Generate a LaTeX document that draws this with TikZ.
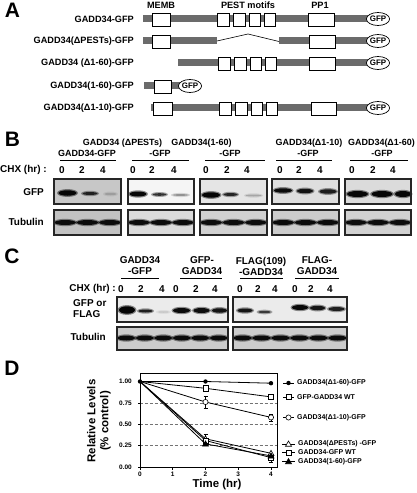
\documentclass[tikz,border=0pt]{standalone}
\usepackage{fontspec}
\setmainfont{Liberation Sans}
\usetikzlibrary{shapes.geometric}
\begin{document}
\begin{tikzpicture}[x=1bp,y=-1bp,
  lbl/.style={font=\bfseries\fontsize{9.2}{10}\selectfont, inner sep=0pt},
  blbl/.style={font=\bfseries\fontsize{10}{11}\selectfont, inner sep=0pt, align=center},
  hlbl/.style={font=\bfseries\fontsize{9}{10}\selectfont, inner sep=0pt, align=center},
  letter/.style={font=\bfseries\fontsize{21}{22}\selectfont, inner sep=0pt},
  bar/.style={fill=black!58},
  dom/.style={fill=white, draw=black, line width=0.9bp},
  gfp/.style={ellipse, draw=black, fill=white, line width=0.7bp, minimum width=22bp, minimum height=13bp, inner sep=0pt, font=\bfseries\fontsize{8}{9}\selectfont},
  blot/.style={draw=black!85, line width=1.4bp},
  rule/.style={line width=1bp},
  tick/.style={font=\bfseries\fontsize{6.5}{7}\selectfont, inner sep=0pt},
  leg/.style={font=\bfseries\fontsize{7}{8}\selectfont, inner sep=0pt, anchor=west},
  grid/.style={densely dashed, black!55, line width=0.5bp},
  dl/.style={line width=0.8bp}
]
\useasboundingbox (0,0) rectangle (416,493);
\fill[white] (0,0) rectangle (416,493);

% band macro: cx cy width height opacity
\newcommand\band[5]{%
  \fill[black, opacity={#5*0.45}] (#1,#2) ellipse [x radius={(#3)/2+1.5}, y radius={(#4)/2+1.2}];
  \fill[black, opacity=#5] (#1,#2) ellipse [x radius={(#3)/2}, y radius={(#4)/2}];}
\newcommand\mkfc[2]{\fill[black] (#1,#2) circle [radius=2.2];}
\newcommand\mkoc[2]{\filldraw[fill=white, draw=black, line width=0.6bp] (#1,#2) circle [radius=2.6];}
\newcommand\mksq[2]{\filldraw[fill=white, draw=black, line width=0.6bp] ({#1-2.6},{#2-2.6}) rectangle ({#1+2.6},{#2+2.6});}
\newcommand\mktri[2]{\filldraw[fill=white, draw=black, line width=0.6bp] (#1,{#2-3}) -- ({#1+3},{#2+2.2}) -- ({#1-3},{#2+2.2}) -- cycle;}
\newcommand\mkftri[2]{\filldraw[fill=black, draw=black, line width=0.6bp] (#1,{#2-3}) -- ({#1+3},{#2+2.2}) -- ({#1-3},{#2+2.2}) -- cycle;}

% ================= Panel A =================
\node[letter] (LA) at (12.5,10.5) {A};
\node[lbl] (hMEMB) at (161,5.5) {MEMB};
\node[lbl] (hPEST) at (248,5) {PEST motifs};
\node[lbl] (hPP1) at (320,5) {PP1};

% row 1
\node[lbl, anchor=east] (r1) at (134,19) {GADD34-GFP};
\fill[bar] (143,15.5) rectangle (368,22.5);
\draw[dom] (152,13) rectangle (170,26);
\draw[dom] (217,13) rectangle (229,26);
\draw[dom] (233,13) rectangle (245,26);
\draw[dom] (249,13) rectangle (260,26);
\draw[dom] (264,13) rectangle (275,26);
\draw[dom] (308,13) rectangle (334,26);
\node[gfp] (g1) at (378,19) {GFP};

% row 2
\node[lbl, anchor=east] (r2) at (134,41) {GADD34(ΔPESTs)-GFP};
\fill[bar] (143,37.5) rectangle (217,44.5);
\fill[bar] (279,37.5) rectangle (368,44.5);
\draw[line width=0.6bp] (217,41) -- (248,34) -- (279,41.5);
\draw[dom] (152,35) rectangle (170,48);
\draw[dom] (309,35) rectangle (335,48);
\node[gfp] (g2) at (378,41) {GFP};

% row 3
\node[lbl, anchor=east] (r3) at (134,63) {GADD34 (Δ1-60)-GFP};
\fill[bar] (178,59.5) rectangle (368,66.5);
\draw[dom] (218,57) rectangle (230,70);
\draw[dom] (234,57) rectangle (246,70);
\draw[dom] (250,57) rectangle (261,70);
\draw[dom] (265,57) rectangle (276,70);
\draw[dom] (309,57) rectangle (335,70);
\node[gfp] (g3) at (378,63) {GFP};

% row 4
\node[lbl, anchor=east] (r4) at (134,86) {GADD34(1-60)-GFP};
\fill[bar] (144,82.5) rectangle (180,89.5);
\draw[dom] (154,80) rectangle (171,93);
\node[gfp] (g4) at (190,86) {GFP};

% row 5
\node[lbl, anchor=east] (r5) at (134,108) {GADD34(Δ1-10)-GFP};
\fill[bar] (151,104.5) rectangle (368,111.5);
\draw[dom] (153,102) rectangle (172,115);
\draw[dom] (219,102) rectangle (231,115);
\draw[dom] (235,102) rectangle (247,115);
\draw[dom] (251,102) rectangle (262,115);
\draw[dom] (266,102) rectangle (277,115);
\draw[dom] (311,102) rectangle (336,115);
\node[gfp] (g5) at (378,108) {GFP};

% ================= Panel B =================
\node[letter] (LB) at (12.5,139) {B};
\node[hlbl] (bh1) at (87,153) {GADD34-GFP};
\node[hlbl] (bh2a) at (122.5,143) {GADD34 (ΔPESTs)};
\node[hlbl] (bh2b) at (160,153) {-GFP};
\node[hlbl] (bh3a) at (201.5,143) {GADD34(1-60)};
\node[hlbl] (bh3b) at (230,153) {-GFP};
\node[hlbl] (bh4a) at (309,143) {GADD34(Δ1-10)};
\node[hlbl] (bh4b) at (308,153) {-GFP};
\node[hlbl] (bh5a) at (381.5,143) {GADD34(Δ1-60)};
\node[hlbl] (bh5b) at (382,153) {-GFP};
\draw[rule] (60,161) -- (116,161);
\draw[rule] (132,161) -- (189,161);
\draw[rule] (205,161) -- (265,161);
\draw[rule] (276,161) -- (332,161);
\draw[rule] (350,161) -- (408,161);

\node[blbl, anchor=west] (bchx) at (0,170) {CHX (hr) :};
\foreach \x/\n in {62/0,82/2,103/4,133/0,152/2,174/4,206/0,227/2,247/4,280/0,299/2,320/4,352/0,373/2,393/4}
  \node[blbl] at (\x,170.5) {\n};
\node[blbl, anchor=east] (bgfp) at (44,192) {GFP};
\node[blbl, anchor=east] (btub) at (44,222) {Tubulin};

% GFP blots
\fill[black!22] (54,179) rectangle (121,204);
\band{67.5}{193}{18}{5.5}{0.95}
\band{90}{193.5}{15}{3}{0.75}
\band{110.5}{194}{12}{2.5}{0.15}
\draw[blot] (54,179) rectangle (121,204);

\fill[black!4] (128,179) rectangle (194,204);
\band{138}{194}{17}{5}{0.95}
\band{159.5}{194.5}{14}{2.6}{0.7}
\band{180.5}{195}{16}{1.8}{0.3}
\draw[blot] (128,179) rectangle (194,204);

\fill[black!10] (200,179) rectangle (267,204);
\band{211}{195}{18}{5.5}{0.95}
\band{230.5}{194.5}{14}{3}{0.75}
\band{253.5}{195.5}{16}{2}{0.2}
\draw[blot] (200,179) rectangle (267,204);

\fill[black!13] (272,179) rectangle (339,204);
\band{283}{190.5}{18}{4.5}{0.9}
\band{305}{191}{16}{4.5}{0.85}
\band{328}{191.5}{17}{4.5}{0.8}
\draw[blot] (272,179) rectangle (339,204);

\fill[black!14] (345,179) rectangle (411,204);
\band{357.5}{194}{21}{6}{0.95}
\band{382}{194}{21}{6}{0.95}
\band{403}{194}{16}{6}{0.95}
\draw[blot] (345,179) rectangle (411,204);

% Tubulin blots
\foreach \a/\b/\g in {54/121/24,128/194/14,200/267/18,272/339/20,345/411/18}{
  \fill[black!\g] (\a,210) rectangle (\b,235);
  \pgfmathsetmacro\w{(\b-\a)/3}
  \foreach \i in {0,1,2}{
    \pgfmathsetmacro\cc{\a+\w*(\i+0.5)}
    \band{\cc}{222.5}{\w-1}{5}{0.9}
  }
  \draw[blot] (\a,210) rectangle (\b,235);
}

% ================= Panel C =================
\node[letter] (LC) at (12,256) {C};
\node[blbl] (ch1) at (140,266) {GADD34\\-GFP};
\node[blbl] (ch2) at (202,266) {GFP-\\GADD34};
\node[blbl] (ch3) at (261,266) {FLAG(109)\\-GADD34};
\node[blbl] (ch4) at (317,266) {FLAG-\\GADD34};
\draw[rule] (121,278) -- (159,278);
\draw[rule] (180,278) -- (222,278);
\draw[rule] (240,278) -- (283,278);
\draw[rule] (295,278) -- (339,278);
\node[blbl, anchor=east] (cchx) at (116,289) {CHX (hr) :};
\foreach \x/\n in {121/0,141/2,162/4,176/0,196/2,215/4,240/0,258/2,275/4,295/0,311/2,330/4}
  \node[blbl] at (\x,289.5) {\n};
\node[blbl, anchor=west, align=left] (cgfp) at (73,309) {GFP or\\FLAG};
\node[blbl, anchor=east] (ctub) at (106,337) {Tubulin};

\fill[black!8] (117,297) rectangle (228,322);
\band{127}{310}{16}{7.5}{0.97}
\band{145.5}{311}{14}{3}{0.8}
\band{163.5}{312}{12}{1.5}{0.12}
\band{181.5}{310.5}{17}{5}{0.92}
\band{201.5}{310.5}{16}{5}{0.9}
\band{219.5}{310.5}{15}{4.5}{0.85}
\draw[blot] (117,297) rectangle (228,322);

\fill[black!8] (233,297) rectangle (347,322);
\band{245}{310.5}{15}{4}{0.85}
\band{264.5}{312}{13}{2.3}{0.65}
\band{300}{307.5}{16}{5}{0.93}
\band{317.5}{308}{15}{4.5}{0.85}
\band{336.5}{309}{16}{4}{0.8}
\draw[blot] (233,297) rectangle (347,322);

\foreach \a/\b in {117/228,233/347}{
  \fill[black!20] (\a,327) rectangle (\b,350);
  \pgfmathsetmacro\w{(\b-\a)/6}
  \foreach \i in {0,...,5}{
    \pgfmathsetmacro\cc{\a+\w*(\i+0.5)}
    \band{\cc}{338}{\w-1}{5}{0.9}
  }
  \draw[blot] (\a,327) rectangle (\b,350);
}

% ================= Panel D =================
\node[letter] (LD) at (12,368) {D};
% gridlines
\foreach \v in {0.25,0.5,0.75}
  \draw[grid] (140,{467-85.5*\v}) -- (277,{467-85.5*\v});
% frame
\draw[line width=1bp] (140,373) rectangle (277,467);
% ticks
\foreach \t in {0,1,2,3,4}{
  \draw[line width=0.6bp] ({140+32.75*\t},467) -- ({140+32.75*\t},469.5);
  \node[tick] at ({140+32.75*\t},474) {\t};
}
\foreach \v/\s in {0/0.00,0.25/0.25,0.5/0.50,0.75/0.75,1/1.00}{
  \draw[line width=0.6bp] (140,{467-85.5*\v}) -- (137.5,{467-85.5*\v});
  \node[tick, anchor=east] at (132,{467-85.5*\v}) {\s};
}
\node[font=\bfseries\fontsize{11.5}{13}\selectfont, rotate=90, align=center, inner sep=0pt] (ylab) at (99,421) {Relative Levels\\(\% control)};
\node[font=\bfseries\fontsize{11.5}{13}\selectfont, inner sep=0pt] (xlab) at (217,485) {Time (hr)};

% data lines
\draw[dl] (140,381.5) -- (205.5,381.5) -- (271,383.2);
\draw[dl] (140,381.5) -- (205.5,388.3) -- (271,396.9);
\draw[dl] (140,381.5) -- (205.5,402.0) -- (271,417.4);
\draw[dl] (140,381.5) -- (205.5,438.8) -- (271,453.3);
\draw[dl] (140,381.5) -- (205.5,440.5) -- (271,457.6);
\draw[dl] (140,381.5) -- (205.5,443.9) -- (271,455.9);
% error bars
\draw[line width=0.5bp] (205.5,396) -- (205.5,408) (203.5,396) -- (207.5,396) (203.5,408) -- (207.5,408);
\draw[line width=0.5bp] (271,414) -- (271,421) (269,414) -- (273,414) (269,421) -- (273,421);
\draw[line width=0.5bp] (205.5,434) -- (205.5,446) (203.5,434) -- (207.5,434);
\draw[line width=0.5bp] (271,453) -- (271,462) (269,462) -- (273,462);
% markers
\mkfc{140}{381.5}
\mkfc{205.5}{381.5}\mkfc{271}{383.2}
\mksq{205.5}{388.3}\mksq{271}{396.9}
\mkoc{205.5}{402.0}\mkoc{271}{417.4}
\mktri{205.5}{438.8}\mktri{271}{453.3}
\mksq{205.5}{440.5}\mksq{271}{457.6}
\mkftri{205.5}{443.9}\mkftri{271}{455.9}

% legend
\draw[dl] (283,383) -- (294,383); \mkfc{288.5}{383}
\node[leg] (l1) at (297,383) {GADD34(Δ1-60)-GFP};
\draw[dl] (283,397) -- (294,397); \mksq{288.5}{397}
\node[leg] (l2) at (297,397) {GFP-GADD34 WT};
\draw[dl] (283,417.5) -- (294,417.5); \mkoc{288.5}{417.5}
\node[leg] (l3) at (297,417.5) {GADD34(Δ1-10)-GFP};
\draw[dl] (282,444) -- (295,444); \mktri{288.5}{444}
\node[leg] (l4) at (298,444) {GADD34(ΔPESTs) -GFP};
\draw[dl] (282,452.5) -- (295,452.5); \mksq{288.5}{452.5}
\node[leg] (l5) at (298,452.5) {GADD34-GFP WT};
\draw[dl] (282,461.5) -- (295,461.5); \mkftri{288.5}{461.5}
\node[leg] (l6) at (298,461.5) {GADD34(1-60)-GFP};
\end{tikzpicture}
\end{document}
